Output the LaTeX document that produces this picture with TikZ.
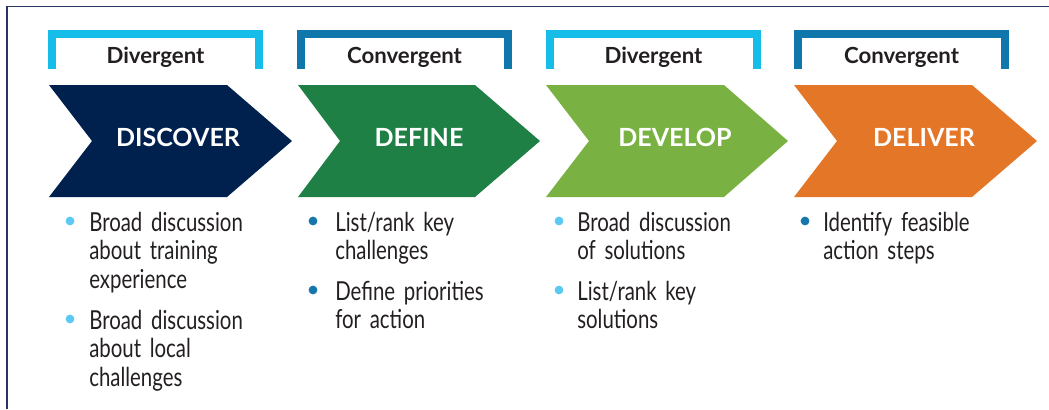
\documentclass[tikz,border=0pt]{standalone}
\usepackage{fontspec}
\setmainfont{Lato}
\newfontfamily\itemfont{Lato}[FakeStretch=0.78]
\newcommand\itemsetup{\itemfont\fontsize{18.6}{20.6}\selectfont\spaceskip=3.6pt plus 1pt\relax}
\usetikzlibrary{positioning}

\definecolor{framec}{HTML}{27365F}
\definecolor{navyc}{HTML}{00214E}
\definecolor{greenc}{HTML}{1F8045}
\definecolor{limec}{HTML}{79B243}
\definecolor{orangec}{HTML}{E47628}
\definecolor{divc}{HTML}{16BDE9}
\definecolor{convc}{HTML}{0F77AB}
\definecolor{dotlc}{HTML}{5BC9F1}
\definecolor{dotdc}{HTML}{1776AC}
\definecolor{txtc}{HTML}{231F20}

\begin{document}
\begin{tikzpicture}[x=0.025cm,y=-0.025cm,
	bracket/.style={line width=0.2cm,miter limit=10},
	brlabel/.style={anchor=base,inner sep=0pt,text=txtc,font=\fontsize{15.8}{18}\selectfont\bfseries},
	chevlabel/.style={anchor=base,inner sep=0pt,text=white,font=\fontsize{17.8}{20}\selectfont\bfseries},
	item/.style={anchor=base west,inner sep=0pt,text=txtc,text width=4.3cm,align=left,font=\itemsetup},
	dotl/.style={circle,fill=dotlc,inner sep=0pt,minimum size=0.22cm},
	dotd/.style={circle,fill=dotdc,inner sep=0pt,minimum size=0.22cm}]
	\useasboundingbox (0,0) rectangle (1049,409);

	% frame
	\draw[framec,line width=1.4pt] (1049,6.5) -- (7,6.5) -- (7,409);

	% brackets
	\draw[bracket,divc]  (52,69) -- (52,34) -- (259,34) -- (259,69);
	\draw[bracket,convc] (301,69) -- (301,34) -- (508,34) -- (508,69);
	\draw[bracket,divc]  (550,69) -- (550,34) -- (757,34) -- (757,69);
	\draw[bracket,convc] (798,69) -- (798,34) -- (1005,34) -- (1005,69);

	\node[brlabel] (b1) at (155.5,63) {Divergent};
	\node[brlabel] (b2) at (404.5,63) {Convergent};
	\node[brlabel] (b3) at (653.5,63) {Divergent};
	\node[brlabel] (b4) at (901.5,63) {Convergent};

	% chevrons
	\fill[navyc]   (49,85) -- (227,85) -- (292,141) -- (227,197) -- (49,197) -- (92,141) -- cycle;
	\fill[greenc]  (298,85) -- (475,85) -- (540,141) -- (475,197) -- (298,197) -- (340,141) -- cycle;
	\fill[limec]   (546,85) -- (724,85) -- (788,141) -- (724,197) -- (546,197) -- (589,141) -- cycle;
	\fill[orangec] (794,85) -- (972,85) -- (1037,141) -- (972,197) -- (794,197) -- (837,141) -- cycle;

	\node[chevlabel] (discover) at (178,146) {DISCOVER};
	\node[chevlabel] (define)   at (419,146) {DEFINE};
	\node[chevlabel] (develop)  at (675,146) {DEVELOP};
	\node[chevlabel] (deliver)  at (924,146) {DELIVER};

	% bullets
	\node[dotl] (d11) at (70,221) {};
	\node[item] (t11) at (89,231) {Broad discussion\\about training\\experience};
	\node[dotl] (d12) at (70,319) {};
	\node[item] (t12) at (89,329) {Broad discussion\\about local\\challenges};

	\node[dotd] (d21) at (313,221) {};
	\node[item] (t21) at (335,231) {List/rank key\\challenges};
	\node[dotd] (d22) at (313,290) {};
	\node[item] (t22) at (335,300) {Define priorities\\for action};

	\node[dotl] (d31) at (559,221) {};
	\node[item] (t31) at (577,231) {Broad discussion\\of solutions};
	\node[dotl] (d32) at (559,290) {};
	\node[item] (t32) at (577,300) {List/rank key\\solutions};

	\node[dotd] (d41) at (805,221) {};
	\node[item] (t41) at (823,231) {Identify feasible\\action steps};
\end{tikzpicture}
\end{document}
